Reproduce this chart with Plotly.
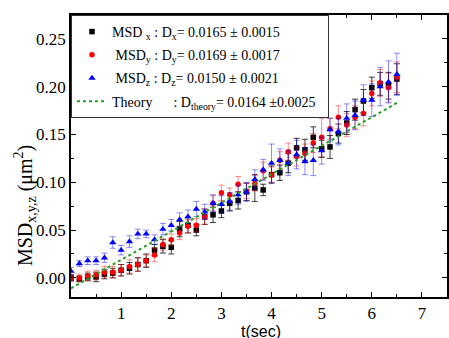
import plotly.graph_objects as go

t = [k / 6 for k in range(40)]

msd_x = [0.000, -0.001, 0.001, 0.001, 0.004, 0.005, 0.008, 0.010, 0.014, 0.018,
         0.029, 0.033, 0.032, 0.051, 0.055, 0.050, 0.064, 0.066, 0.070, 0.078,
         0.081, 0.090, 0.094, 0.092, 0.108, 0.110, 0.120, 0.136, 0.134, 0.147,
         0.135, 0.137, 0.151, 0.162, 0.176, 0.185, 0.199, 0.203, 0.201, 0.208]
err_x = [0.003, 0.003, 0.004, 0.005, 0.005, 0.005, 0.006, 0.006, 0.007, 0.007,
         0.006, 0.007, 0.007, 0.008, 0.008, 0.006, 0.008, 0.008, 0.007, 0.008,
         0.009, 0.009, 0.014, 0.006, 0.009, 0.008, 0.010, 0.010, 0.011, 0.011,
         0.009, 0.012, 0.010, 0.012, 0.011, 0.012, 0.011, 0.012, 0.014, 0.016]

msd_y = [0.000, 0.000, 0.002, 0.003, 0.006, 0.006, 0.008, 0.012, 0.014, 0.018,
         0.024, 0.035, 0.040, 0.047, 0.054, 0.055, 0.064, 0.078, 0.089, 0.087,
         0.098, 0.091, 0.099, 0.112, 0.108, 0.123, 0.132, 0.127, 0.130, 0.141,
         0.147, 0.156, 0.168, 0.160, 0.168, 0.172, 0.193, 0.204, 0.199, 0.210]
err_y = [0.004, 0.004, 0.005, 0.005, 0.006, 0.006, 0.006, 0.007, 0.007, 0.006,
         0.007, 0.006, 0.006, 0.007, 0.007, 0.007, 0.008, 0.008, 0.008, 0.007,
         0.008, 0.008, 0.008, 0.009, 0.008, 0.009, 0.009, 0.010, 0.010, 0.010,
         0.020, 0.011, 0.012, 0.012, 0.012, 0.013, 0.013, 0.014, 0.015, 0.016]

msd_z = [0.007, 0.015, 0.018, 0.018, 0.021, 0.037, 0.029, 0.038, 0.046, 0.046,
         0.040, 0.051, 0.055, 0.061, 0.064, 0.072, 0.069, 0.078, 0.077, 0.080,
         0.087, 0.090, 0.103, 0.113, 0.120, 0.123, 0.120, 0.129, 0.122, 0.123,
         0.133, 0.155, 0.153, 0.167, 0.170, 0.186, 0.186, 0.200, 0.205, 0.213]
err_z = [0.004, 0.003, 0.004, 0.004, 0.005, 0.006, 0.005, 0.006, 0.005, 0.004,
         0.005, 0.006, 0.006, 0.007, 0.007, 0.008, 0.008, 0.009, 0.009, 0.009,
         0.010, 0.010, 0.010, 0.011, 0.020, 0.012, 0.013, 0.015, 0.014, 0.016,
         0.014, 0.012, 0.014, 0.015, 0.015, 0.016, 0.017, 0.020, 0.022, 0.022]

theory_t = [0.0, 6.5]
theory_v = [-0.011, 0.183]

x_ticks = [1, 2, 3, 4, 5, 6, 7]
y_ticks = [0.00, 0.05, 0.10, 0.15, 0.20, 0.25]

serif = "Liberation Serif"
nb = "&nbsp;"

fig = go.Figure()

fig.add_trace(go.Scatter(
    x=t, y=msd_x, mode="markers", legendgroup="x",
    name="MSD" + nb + "<sub>x</sub> : D<sub>x</sub>= 0.0165 ± 0.0015",
    marker=dict(symbol="square", size=5.5, color="black"),
    error_y=dict(type="data", array=err_x, color="rgba(0,0,0,0.75)", thickness=1, width=3),
))
fig.add_trace(go.Scatter(
    x=t, y=msd_y, mode="markers", legendgroup="y",
    name=nb + "MSD<sub>y</sub> : D<sub>y</sub>= 0.0169 ± 0.0017",
    marker=dict(symbol="circle", size=5.5, color="red"),
    error_y=dict(type="data", array=err_y, color="rgba(255,0,0,0.45)", thickness=1, width=3),
))
fig.add_trace(go.Scatter(
    x=t, y=msd_z, mode="markers", legendgroup="z",
    name=nb + "MSD<sub>z</sub> : D<sub>z</sub>= 0.0150 ± 0.0021",
    marker=dict(symbol="triangle-up", size=6.5, color="blue"),
    error_y=dict(type="data", array=err_z, color="rgba(0,0,255,0.45)", thickness=1, width=3),
))
fig.add_trace(go.Scatter(
    x=theory_t, y=theory_v, mode="lines", legendgroup="th",
    name="Theory" + nb * 6 + ": D<sub>theory</sub>= 0.0164 ±0.0025" + nb * 2,
    line=dict(color="#22a022", width=2, dash="dot"),
))

fig.update_layout(
    width=449, height=338,
    margin=dict(l=71, r=2, t=15, b=41),
    paper_bgcolor="white", plot_bgcolor="white",
    font=dict(family=serif, color="black", size=15),
    showlegend=True,
    legend=dict(
        x=0, y=1, xanchor="left", yanchor="top",
        bgcolor="white", bordercolor="#333", borderwidth=1,
        font=dict(family=serif, size=14, color="black"),
        traceorder="grouped", tracegroupgap=2, itemwidth=30,
    ),
    xaxis=dict(
        range=[0, 7.5], tickvals=x_ticks, ticktext=[str(v) for v in x_ticks],
        ticks="inside", ticklen=5, tickcolor="black", showline=True, linecolor="black",
        linewidth=1.5, mirror="ticks", showgrid=False, zeroline=False, automargin=False,
        minor=dict(dtick=0.5, tick0=0, ticks="inside", ticklen=3, tickcolor="black"),
        tickfont=dict(family=serif, size=17),
    ),
    yaxis=dict(
        range=[-0.02, 0.275], tickvals=y_ticks, ticktext=["%.2f" % v for v in y_ticks],
        ticks="inside", ticklen=5, tickcolor="black", showline=True, linecolor="black",
        linewidth=1.5, mirror="ticks", showgrid=False, zeroline=False, automargin=False,
        minor=dict(dtick=0.025, tick0=0, ticks="inside", ticklen=3, tickcolor="black"),
        tickfont=dict(family=serif, size=17),
    ),
    annotations=[
        dict(
            text="MSD<sub>x,y,z</sub> (μm<sup>2</sup>)", textangle=-90,
            xref="paper", yref="paper", x=-0.122, y=0.323,
            xanchor="center", yanchor="middle", showarrow=False,
            font=dict(family=serif, size=20, color="black"),
        ),
        dict(
            text="t(sec)", xref="paper", yref="paper", x=0.505, y=-0.124,
            xanchor="center", yanchor="middle", showarrow=False,
            font=dict(family="Liberation Sans", size=16, color="black"),
        ),
    ],
)

fig.write_html(
    "out.html",
    config={"displayModeBar": False},
    post_script="document.body.style.margin='0px';document.body.style.overflow='hidden';",
)
